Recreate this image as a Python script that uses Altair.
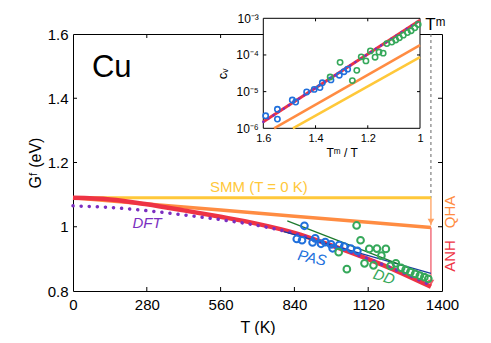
import altair as alt
import pandas as pd

TM = 1358

# ---------------- main panel data (T in K, G in eV) ----------------
smm_T = [0, TM]
smm_G = [1.09, 1.09]
qha_T = [0, 280, 560, 840, 1120, TM]
qha_G = [1.090, 1.071, 1.052, 1.033, 1.014, 0.998]
anh_T = [0, 140, 280, 420, 560, 700, 840, 980, 1120, 1240, TM]
anh_G = [1.090, 1.085, 1.070, 1.051, 1.031, 1.009, 0.981, 0.942, 0.899, 0.858, 0.813]
dft_T = [0, 140, 280, 420, 560, 700, 840, 980, 1120, 1240, TM]
dft_G = [1.065, 1.060, 1.050, 1.037, 1.022, 1.004, 0.979, 0.943, 0.900, 0.861, 0.818]
pasfit_T = [800, TM]
pasfit_G = [0.985, 0.855]
ddfit_T = [813, TM]
ddfit_G = [1.018, 0.845]
pas_T = [849, 869, 878, 909, 919, 941, 957, 979, 985, 1010, 1029, 1054, 1079]
pas_G = [0.962, 0.958, 1.003, 0.951, 0.964, 0.947, 0.952, 0.945, 0.933, 0.943, 0.938, 0.932, 0.925]
dd_T = [1008, 1039, 1076, 1091, 1106, 1124, 1140, 1153, 1170, 1187, 1205, 1225, 1245, 1262, 1280, 1298, 1316, 1333, 1348]
dd_G = [0.921, 0.868, 1.004, 0.958, 0.886, 0.931, 0.880, 0.932, 0.910, 0.931, 0.878, 0.886, 0.872, 0.866, 0.859, 0.853, 0.848, 0.843, 0.838]

main_x_ticks = [0, 280, 560, 840, 1120, 1400]
main_y_ticks = [0.8, 1.0, 1.2, 1.4, 1.6]

# ---------------- inset data (Tm/T, vacancy concentration) ----------------
ins_anh_r = [1.6, 1.0]
ins_anh_c = [1.5e-6, 8.9e-4]
ins_qha_r = [1.559, 1.0]
ins_qha_c = [1.0e-6, 1.86e-4]
ins_smm_r = [1.487, 1.0]
ins_smm_c = [1.0e-6, 8.7e-5]
ins_pas_r = [1.591, 1.546, 1.546, 1.489, 1.476, 1.434, 1.405, 1.383, 1.374, 1.341, 1.309, 1.291, 1.277]
ins_pas_c = [2.19e-6, 3.3e-6, 1.78e-6, 5.9e-6, 5.2e-6, 9.8e-6, 1.15e-5, 1.29e-5, 1.74e-5, 2.09e-5, 2.8e-5, 3.5e-5, 4.1e-5]
ins_dd_r = [1.344, 1.306, 1.259, 1.242, 1.225, 1.207, 1.190, 1.172, 1.157, 1.141, 1.127, 1.108, 1.093, 1.079, 1.064, 1.048, 1.034, 1.020, 1.007]
ins_dd_c = [2.5e-5, 6.3e-5, 2.0e-5, 3.8e-5, 8.9e-5, 6.9e-5, 1.29e-4, 8.7e-5, 1.20e-4, 1.12e-4, 2.04e-4, 2.24e-4, 2.57e-4, 2.95e-4, 3.47e-4, 4.07e-4, 4.57e-4, 5.5e-4, 6.8e-4]
ins_x_ticks = [1.0, 1.2, 1.4, 1.6]
ins_y_ticks = [1e-6, 1e-5, 1e-4, 1e-3]

YEL, ORA, RED, PUR = "#ffc83a", "#ff8c42", "#ee3344", "#7b2fc0"
BLU, GRN, DBLU, DGRN = "#2070dc", "#35a85a", "#1a3ea0", "#1d7a2e"
FONT = "Liberation Sans"

W, H = 369, 257

# ---------------- main panel ----------------
xs = alt.Scale(domain=[0, 1400], nice=False, zero=False)
ys = alt.Scale(domain=[0.8, 1.6], nice=False, zero=False)
ax_x = alt.Axis(values=main_x_ticks, format="d", ticks=False, tickSize=0, domain=False, grid=False,
                labelFlush=False, labelPadding=6, labelFontSize=15,
                title="T (K)", titleFontSize=16, titleFontWeight="normal", titlePadding=7)
ax_y = alt.Axis(values=main_y_ticks, format="~g", ticks=False, tickSize=0, domain=False, grid=False,
                labelPadding=5, labelFontSize=15,
                title="Gᶠ (eV)", titleFontSize=16, titleFontWeight="normal", titlePadding=4)
X = alt.X("T:Q", scale=xs, axis=ax_x)
Y = alt.Y("G:Q", scale=ys, axis=ax_y)


def df(T, G):
    return pd.DataFrame({"T": T, "G": G})


def mline(T, G, color, width, **kw):
    return alt.Chart(df(T, G)).mark_line(color=color, strokeWidth=width, **kw).encode(x=X, y=Y)


def mtext(T, G, label, color, size, **kw):
    d = pd.DataFrame({"T": [T], "G": [G], "label": [label]})
    return alt.Chart(d).mark_text(color=color, fontSize=size, font=FONT, **kw).encode(x=X, y=Y, text="label:N")


main_layers = [
    # inward ticks
    alt.Chart(pd.DataFrame({"T": main_x_ticks[1:-1]})).mark_rule(color="black").encode(x=X, y=alt.value(H), y2=alt.value(H - 4)),
    alt.Chart(pd.DataFrame({"T": main_x_ticks[1:-1]})).mark_rule(color="black").encode(x=X, y=alt.value(0), y2=alt.value(4)),
    alt.Chart(pd.DataFrame({"G": main_y_ticks[1:-1]})).mark_rule(color="black").encode(y=Y, x=alt.value(0), x2=alt.value(4)),
    alt.Chart(pd.DataFrame({"G": main_y_ticks[1:-1]})).mark_rule(color="black").encode(y=Y, x=alt.value(W), x2=alt.value(W - 4)),
    # Tm dashed marker
    mline([TM, TM], [1.6, 1.09], "#666666", 1, strokeDash=[3, 3]),
    # arrows
    mline([TM, TM], [1.09, 1.005], "#ffa060", 1.3),
    mline([TM, TM], [0.998, 0.818], "#f05a6a", 1.3),
    alt.Chart(df([TM], [1.016])).mark_point(shape="triangle-down", filled=True, color="#ffa060", size=45, opacity=1).encode(x=X, y=Y),
    alt.Chart(df([TM], [0.826])).mark_point(shape="triangle-down", filled=True, color="#f05a6a", size=45, opacity=1).encode(x=X, y=Y),
    # curves
    mline(smm_T, smm_G, YEL, 3),
    mline(qha_T, qha_G, ORA, 3.5),
    mline(anh_T, anh_G, RED, 4.5, interpolate="monotone"),
    mline(dft_T, dft_G, PUR, 3.5, interpolate="monotone", strokeDash=[0.1, 8], strokeCap="round"),
    mline(pasfit_T, pasfit_G, DBLU, 1.3),
    mline(ddfit_T, ddfit_G, DGRN, 1.3),
    alt.Chart(df(pas_T, pas_G)).mark_point(color=BLU, size=45, strokeWidth=2, opacity=1).encode(x=X, y=Y),
    alt.Chart(df(dd_T, dd_G)).mark_point(color=GRN, size=45, strokeWidth=2, opacity=1).encode(x=X, y=Y),
    # labels
    mtext(72, 1.466, "Cu", "black", 31, align="left", baseline="alphabetic"),
    mtext(520, 1.108, "SMM (T = 0 K)", YEL, 15, align="left", baseline="alphabetic"),
    mtext(281, 0.996, "DFT", PUR, 15, align="center", baseline="alphabetic", fontStyle="italic"),
    mtext(907, 0.903, "PAS", BLU, 15, align="center", baseline="middle", fontStyle="italic", angle=12),
    mtext(1180, 0.844, "DD", GRN, 15, align="center", baseline="middle", fontStyle="italic", angle=18),
    mtext(1430, 1.046, "QHA", ORA, 15, align="center", baseline="middle", angle=270),
    mtext(1430, 0.909, "ANH", RED, 15, align="center", baseline="middle", angle=270),
    mtext(1375, 1.628, "Tᵐ", "black", 17, align="center", baseline="middle"),
]
main = alt.layer(*main_layers)

# ---------------- inset panel ----------------
IL, IR, IB, IT = 190.3, 347, 94.3, -15.7
ixs = alt.Scale(domain=[1.0, 1.6], range=[IR, IL], nice=False, zero=False)
iys = alt.Scale(type="log", domain=[1e-6, 1e-3], range=[IB, IT], nice=False)
ax_ix = alt.Axis(orient="bottom", offset=IB - H, values=ins_x_ticks, format="~g", ticks=False, tickSize=0,
                 domain=False, grid=False, labelFlush=False, labelPadding=4, labelFontSize=11,
                 title="Tᵐ / T", titleFontSize=12, titleFontWeight="normal", titlePadding=4)
ax_iy = alt.Axis(orient="left", offset=-IL, values=ins_y_ticks, ticks=False, tickSize=0, domain=False, grid=False,
                 labelExpr="datum.value > 5e-4 ? '10⁻³' : datum.value > 5e-5 ? '10⁻⁴' : datum.value > 5e-6 ? '10⁻⁵' : '10⁻⁶'",
                 labelPadding=5, labelFontSize=12,
                 title="cᵥ", titleFontSize=13, titleFontWeight="normal", titlePadding=6)
IX = alt.X("r:Q", scale=ixs, axis=ax_ix)
IY = alt.Y("c:Q", scale=iys, axis=ax_iy)


def idf(r, c):
    return pd.DataFrame({"r": r, "c": c})


def iline(r, c, color, width, **kw):
    return alt.Chart(idf(r, c)).mark_line(color=color, strokeWidth=width, **kw).encode(x=IX, y=IY)


inset_layers = [
    alt.Chart(pd.DataFrame({"r": [1.0], "r2": [1.6], "c": [1e-6], "c2": [1e-3]}))
       .mark_rect(fill="white", stroke="black", strokeWidth=1)
       .encode(x=IX, x2="r2:Q", y=IY, y2="c2:Q"),
    alt.Chart(pd.DataFrame({"r": ins_x_ticks[1:-1]})).mark_rule(color="black").encode(x=IX, y=alt.value(IB), y2=alt.value(IB - 3)),
    alt.Chart(pd.DataFrame({"r": ins_x_ticks[1:-1]})).mark_rule(color="black").encode(x=IX, y=alt.value(IT), y2=alt.value(IT + 3)),
    alt.Chart(pd.DataFrame({"c": ins_y_ticks[1:-1]})).mark_rule(color="black").encode(y=IY, x=alt.value(IL), x2=alt.value(IL + 3)),
    alt.Chart(pd.DataFrame({"c": ins_y_ticks[1:-1]})).mark_rule(color="black").encode(y=IY, x=alt.value(IR), x2=alt.value(IR - 3)),
    iline(ins_smm_r, ins_smm_c, YEL, 2.5),
    iline(ins_qha_r, ins_qha_c, ORA, 2.5),
    iline(ins_anh_r, ins_anh_c, RED, 3),
    iline(ins_anh_r, ins_anh_c, PUR, 2.5, strokeDash=[0.1, 6], strokeCap="round"),
    alt.Chart(idf(ins_pas_r, ins_pas_c)).mark_point(color=BLU, size=28, strokeWidth=1.6, opacity=1).encode(x=IX, y=IY),
    alt.Chart(idf(ins_dd_r, ins_dd_c)).mark_point(color=GRN, size=28, strokeWidth=1.6, opacity=1).encode(x=IX, y=IY),
]
inset = alt.layer(*inset_layers)

chart = (
    alt.layer(main, inset)
    .resolve_scale(x="independent", y="independent")
    .properties(width=W, height=H, autosize=alt.AutoSizeParams(type="none"),
                padding={"left": 65, "top": 26, "right": 41, "bottom": 44})
    .configure_view(stroke="black", strokeWidth=1)
    .configure_axis(labelFont=FONT, titleFont=FONT, labelColor="black", titleColor="black")
    .configure_text(font=FONT)
)

chart.save("out.html", embed_options={"renderer": "svg", "actions": False})
